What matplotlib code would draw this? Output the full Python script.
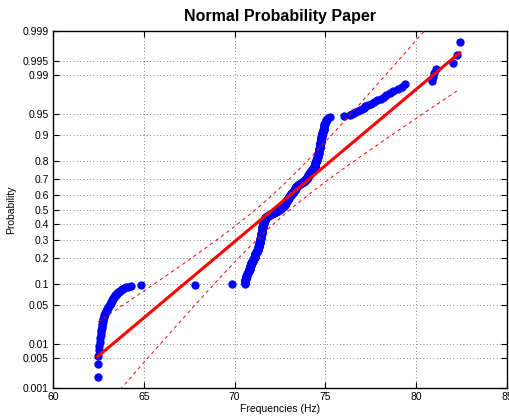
import math
import numpy as np
import matplotlib
matplotlib.use("Agg")
import matplotlib.pyplot as plt

# ---------------- data ----------------
# lowest part of the sorted sample (Hz), one value per observation
low_tail_hz = [62.46, 62.46, 62.49, 62.52, 62.55, 62.58, 62.60, 62.62, 62.64, 62.66,
               62.68, 62.69, 62.71, 62.73, 62.76, 62.78, 62.81, 62.83, 62.85, 62.88,
               62.92, 62.95, 62.99, 63.02, 63.05, 63.08, 63.12, 63.15, 63.18, 63.21,
               63.24, 63.27, 63.30, 63.33, 63.37, 63.41, 63.44, 63.48, 63.51, 63.54,
               63.58, 63.61, 63.67, 63.72, 63.78, 63.83, 63.89, 64.00, 64.12, 64.28,
               64.85, 67.82, 69.84]
# dense central part: frequency value (Hz) and number of observations
core_hz = [70.55, 70.60, 70.65, 70.70, 70.75, 70.80, 70.85, 70.90, 70.95, 71.00,
           71.05, 71.10, 71.15, 71.20, 71.25, 71.30, 71.35, 71.40, 71.45, 71.50,
           71.55, 71.60, 71.65, 71.70, 71.75, 71.80, 71.85, 71.90, 71.95, 72.00,
           72.05, 72.10, 72.15, 72.20, 72.25, 72.30, 72.35, 72.40, 72.45, 72.50,
           72.55, 72.60, 72.65, 72.70, 72.75, 72.80, 72.85, 72.90, 72.95, 73.00,
           73.05, 73.10, 73.15, 73.20, 73.25, 73.30, 73.35, 73.40, 73.45, 73.50,
           73.55, 73.60, 73.65, 73.70, 73.75, 73.80, 73.85, 73.90, 73.95, 74.00,
           74.05, 74.10, 74.15, 74.20, 74.25, 74.30, 74.35, 74.40, 74.45, 74.50,
           74.55, 74.60, 74.65, 74.70, 74.75, 74.80, 74.85, 74.90, 74.95, 75.00,
           75.05, 75.10, 75.15, 75.25]
core_counts = [2, 6, 6, 5, 4, 5, 8, 7, 4, 5,
               4, 5, 6, 5, 5, 10, 11, 15, 17, 22,
               14, 10, 6, 5, 2, 3, 3, 2, 2, 2,
               1, 2, 2, 2, 1, 2, 1, 3, 3, 2,
               4, 3, 3, 4, 3, 5, 6, 5, 6, 6,
               5, 5, 4, 4, 4, 4, 4, 5, 4, 3,
               2, 2, 2, 2, 2, 3, 2, 2, 3, 5,
               6, 5, 4, 4, 4, 4, 4, 6, 6, 6,
               8, 9, 11, 12, 10, 7, 4, 4, 4, 2,
               3, 1, 1, 1]
# highest part of the sorted sample (Hz)
high_tail_hz = [76.00, 76.35, 76.45, 76.55, 76.65, 76.80, 76.90, 77.00, 77.10, 77.20,
                77.35, 77.50, 77.70, 77.85, 78.05, 78.20, 78.35, 78.55, 78.70, 79.00,
                79.20, 79.40, 80.85, 80.90, 81.00, 81.10, 82.00, 82.25, 82.40]

# fitted normal distribution and its confidence band
fit_mu = 72.11
fit_sigma = 3.79
band_a = 0.9   # half-width^2 = a + b*z^2  (Hz^2)
band_b = 1.1

prob_ticks = [0.001, 0.005, 0.01, 0.05, 0.1, 0.2, 0.3, 0.4, 0.5, 0.6, 0.7,
              0.8, 0.9, 0.95, 0.99, 0.995, 0.999]
prob_labels = ["0.001", "0.005", "0.01", "0.05", "0.1", "0.2", "0.3", "0.4", "0.5",
               "0.6", "0.7", "0.8", "0.9", "0.95", "0.99", "0.995", "0.999"]
x_ticks = [60, 65, 70, 75, 80, 85]

# ---------------- normal helpers ----------------
_a = [-3.969683028665376e+01, 2.209460984245205e+02, -2.759285104469687e+02,
      1.383577518672690e+02, -3.066479806614716e+01, 2.506628277459239e+00]
_b = [-5.447609879822406e+01, 1.615858368580409e+02, -1.556989798598866e+02,
      6.680131188771972e+01, -1.328068155288572e+01]
_c = [-7.784894002430293e-03, -3.223964580411365e-01, -2.400758277161838e+00,
      -2.549732539343734e+00, 4.374664141464968e+00, 2.938163982698783e+00]
_d = [7.784695709041462e-03, 3.224671290700398e-01, 2.445134137142996e+00,
      3.754408661907416e+00]


def norm_ppf(p):
    p = np.clip(np.asarray(p, dtype=float), 1e-12, 1 - 1e-12)
    out = np.empty_like(p)
    lo = p < 0.02425
    hi = p > 1 - 0.02425
    mid = ~(lo | hi)
    q = np.sqrt(-2 * np.log(p[lo]))
    out[lo] = (((((_c[0]*q+_c[1])*q+_c[2])*q+_c[3])*q+_c[4])*q+_c[5]) / \
              ((((_d[0]*q+_d[1])*q+_d[2])*q+_d[3])*q+1)
    q = np.sqrt(-2 * np.log(1 - p[hi]))
    out[hi] = -(((((_c[0]*q+_c[1])*q+_c[2])*q+_c[3])*q+_c[4])*q+_c[5]) / \
               ((((_d[0]*q+_d[1])*q+_d[2])*q+_d[3])*q+1)
    q = p[mid] - 0.5
    r = q * q
    out[mid] = (((((_a[0]*r+_a[1])*r+_a[2])*r+_a[3])*r+_a[4])*r+_a[5])*q / \
               (((((_b[0]*r+_b[1])*r+_b[2])*r+_b[3])*r+_b[4])*r+1)
    return out


_erf = np.vectorize(math.erf)


def norm_cdf(z):
    z = np.asarray(z, dtype=float)
    return 0.5 * (1 + _erf(z / math.sqrt(2)))


# ---------------- build sample ----------------
sample = np.sort(np.concatenate([np.array(low_tail_hz),
                                 np.repeat(core_hz, core_counts),
                                 np.array(high_tail_hz)]))
n = len(sample)
plot_pos = np.arange(1, n + 1) / (n + 1)

# ---------------- figure ----------------
plt.rcParams["font.family"] = ["Liberation Sans", "DejaVu Sans"]
fig = plt.figure(figsize=(5.1, 4.2), dpi=100)
ax = fig.add_axes([53/510, 32/420, 454/510, 357/420])
ax.set_yscale("function", functions=(norm_ppf, norm_cdf))

ax.plot(sample, plot_pos, "o", color="#0000ff", markeredgecolor="#0000ff",
        markersize=5.0, zorder=3, clip_on=False)

# fitted line from data min to data max
x_line = np.linspace(sample.min(), sample.max(), 200)
ax.plot(x_line, norm_cdf((x_line - fit_mu) / fit_sigma), "-", color="#ff0000",
        linewidth=2.2, zorder=4)

# confidence band
zg = np.linspace(-3.6, 3.6, 1500)
half = np.sqrt(band_a + band_b * zg**2)
pg = norm_cdf(zg)
for sgn in (-1, 1):
    xb = fit_mu + zg * fit_sigma + sgn * half
    xb = np.where((xb >= sample.min()) & (xb <= sample.max()), xb, np.nan)
    ax.plot(xb, pg, color="#ff0000", linewidth=0.7, linestyle=(0, (3.5, 3.5)),
            zorder=4)

ax.set_xlim(60, 85)
ax.set_ylim(0.001, 0.999)
ax.set_xticks(x_ticks)
ax.set_xticklabels([str(t) for t in x_ticks])
ax.set_yticks(prob_ticks)
ax.set_yticklabels(prob_labels)
ax.yaxis.set_minor_locator(matplotlib.ticker.NullLocator())
ax.xaxis.set_minor_locator(matplotlib.ticker.NullLocator())

ax.grid(True, color="0.35", linestyle=(0, (1, 3)), linewidth=0.6)
ax.set_axisbelow(True)
ax.tick_params(direction="in", top=True, right=True, length=4, width=0.8,
               labelsize=7.5, pad=3)
for s in ax.spines.values():
    s.set_linewidth(1.0)

ax.set_title("Normal Probability Paper", fontsize=11.5, fontweight="bold", pad=7)
ax.set_xlabel("Frequencies (Hz)", fontsize=7.5, labelpad=1)
ax.set_ylabel("Probability", fontsize=7.5, labelpad=5)

fig.savefig("out.png", dpi=100)
